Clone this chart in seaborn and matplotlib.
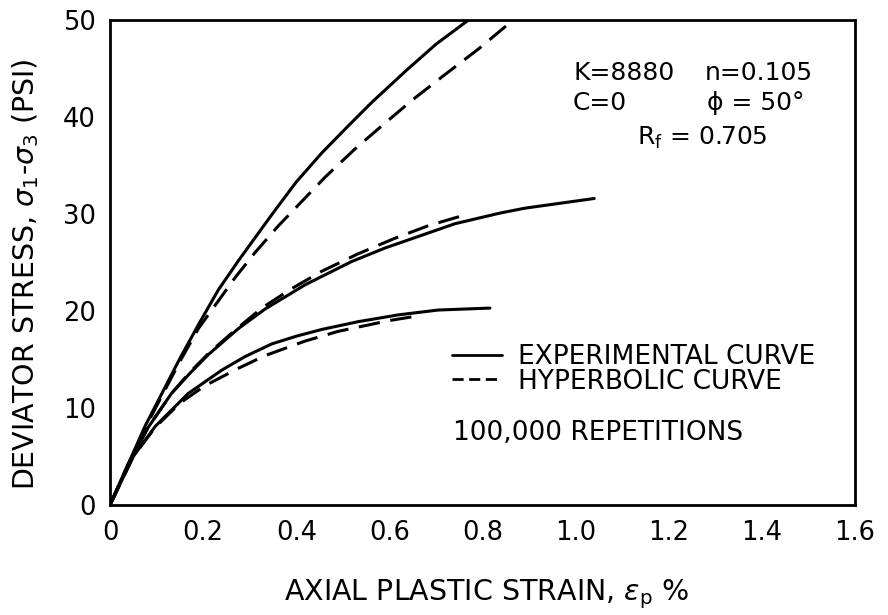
import matplotlib
matplotlib.use("Agg")
import matplotlib.pyplot as plt
import seaborn as sns
import pandas as pd
from matplotlib.lines import Line2D

# ---- data ----
top_exp_strain = [0, 0.075, 0.15, 0.19, 0.233, 0.276, 0.347, 0.40, 0.455, 0.51, 0.562, 0.634, 0.70, 0.77]
top_exp_stress = [0, 8.1, 15.1, 18.6, 22.2, 25.2, 29.9, 33.3, 36.3, 39.0, 41.5, 44.7, 47.5, 50.0]
top_hyp_strain = [0, 0.075, 0.15, 0.19, 0.232, 0.268, 0.311, 0.362, 0.412, 0.462, 0.526, 0.584, 0.648, 0.712, 0.791, 0.866]
top_hyp_stress = [0, 7.9, 14.8, 18.2, 21.0, 23.4, 26.0, 28.8, 31.3, 33.8, 36.7, 39.1, 41.7, 44.1, 47.0, 50.0]

mid_exp_strain = [0, 0.04, 0.082, 0.132, 0.17, 0.211, 0.276, 0.333, 0.419, 0.519, 0.591, 0.669, 0.741, 0.838, 0.891, 1.04]
mid_exp_stress = [0, 4.3, 8.0, 11.5, 13.5, 15.5, 18.2, 20.2, 22.7, 25.1, 26.5, 27.8, 29.0, 30.1, 30.6, 31.6]
mid_hyp_strain = [0, 0.04, 0.082, 0.132, 0.17, 0.211, 0.268, 0.326, 0.39, 0.455, 0.533, 0.612, 0.684, 0.762]
mid_hyp_stress = [0, 4.3, 8.0, 11.5, 13.6, 15.6, 18.0, 20.3, 22.3, 24.1, 25.9, 27.5, 28.8, 29.9]

low_exp_strain = [0, 0.05, 0.097, 0.168, 0.24, 0.29, 0.347, 0.40, 0.455, 0.533, 0.619, 0.705, 0.816]
low_exp_stress = [0, 5.0, 8.1, 11.5, 13.9, 15.3, 16.6, 17.4, 18.1, 18.9, 19.6, 20.1, 20.3]
low_hyp_strain = [0, 0.05, 0.097, 0.15, 0.204, 0.276, 0.333, 0.419, 0.49, 0.598, 0.662]
low_hyp_stress = [0, 5.0, 8.0, 10.5, 12.3, 14.1, 15.4, 16.9, 17.9, 19.0, 19.5]

x_ticks = [0, 0.2, 0.4, 0.6, 0.8, 1.0, 1.2, 1.4, 1.6]
x_tick_labels = ["0", "0.2", "0.4", "0.6", "0.8", "1.0", "1.2", "1.4", "1.6"]
y_ticks = [0, 10, 20, 30, 40, 50]
y_tick_labels = ["0", "10", "20", "30", "40", "50"]

legend_labels = ["EXPERIMENTAL CURVE", "HYPERBOLIC CURVE"]

# ---- figure ----
sns.set_theme(style="white")
plt.rcParams["font.family"] = ["DejaVu Sans"]
plt.rcParams["text.color"] = "black"

fig = plt.figure(figsize=(8.88, 6.15), dpi=100)
ax = fig.add_axes([110 / 888, 1 - 505 / 615, 745 / 888, 485 / 615])

LW = 2.2
DASH = (0, (7, 3.5))

curves = [
    (top_exp_strain, top_exp_stress, "-"),
    (top_hyp_strain, top_hyp_stress, DASH),
    (mid_exp_strain, mid_exp_stress, "-"),
    (mid_hyp_strain, mid_hyp_stress, DASH),
    (low_exp_strain, low_exp_stress, "-"),
    (low_hyp_strain, low_hyp_stress, DASH),
]
for xs, ys, ls in curves:
    df = pd.DataFrame({"strain": xs, "stress": ys})
    sns.lineplot(data=df, x="strain", y="stress", ax=ax, color="black",
                 lw=LW, sort=False, estimator=None, linestyle=ls)

ax.set_xlim(0, 1.6)
ax.set_ylim(0, 50)
ax.set_xticks(x_ticks)
ax.set_xticklabels(x_tick_labels)
ax.set_yticks(y_ticks)
ax.set_yticklabels(y_tick_labels)
ax.tick_params(axis="both", length=0, labelsize=18.5, colors="black")
ax.tick_params(axis="x", pad=11)
ax.tick_params(axis="y", pad=10)

for s in ax.spines.values():
    s.set_visible(True)
    s.set_color("black")
    s.set_linewidth(2.0)

ax.set_xlabel("AXIAL PLASTIC STRAIN, $\\epsilon_\\mathregular{p}$ %", fontsize=20.5, color="black")
ax.set_ylabel("DEVIATOR STRESS, $\\sigma_\\mathregular{1}$-$\\sigma_\\mathregular{3}$ (PSI)", fontsize=20.5, color="black")
ax.xaxis.set_label_coords((487 - 110) / 745, (505 - 577) / 485)
ax.yaxis.set_label_coords((41 - 110) / 745, (505 - 274) / 485)

# annotations
def axpos(px, py):
    return (px - 110) / 745, (505 - py) / 485

tk = dict(transform=ax.transAxes, fontsize=18, color="black", va="center", ha="left")
ax.text(*axpos(573, 73), "K=8880", **tk)
ax.text(*axpos(705, 73), "n=0.105", **tk)
ax.text(*axpos(573, 103), "C=0", **tk)
ax.text(*axpos(707, 103), "ϕ = 50°", **tk)
ax.text(*axpos(637, 138), "R$_\\mathregular{f}$ = 0.705", **tk)
ax.text(*axpos(453, 433), "100,000 REPETITIONS", transform=ax.transAxes,
        fontsize=19, color="black", va="center", ha="left")

handles = [Line2D([], [], color="black", lw=2.0),
           Line2D([], [], color="black", lw=2.0, dashes=(4, 2))]
leg = ax.legend(handles, legend_labels, loc="upper left",
                bbox_to_anchor=axpos(452, 344), frameon=False, fontsize=19,
                handlelength=1.9, handletextpad=0.6, labelspacing=-0.05,
                borderpad=0, borderaxespad=0, labelcolor="black")

fig.savefig("out.png", dpi=100)
